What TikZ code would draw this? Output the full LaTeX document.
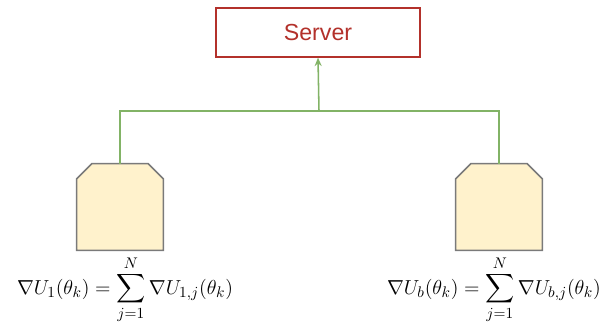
\documentclass[tikz,border=0pt]{standalone}
\usepackage{amsmath}
\usepackage{fontspec}
\newfontfamily\labelfont{Liberation Sans}
\usetikzlibrary{arrows.meta,calc}
\definecolor{serverred}{HTML}{B3312B}
\definecolor{linkgreen}{HTML}{82B366}
\definecolor{clientfill}{HTML}{FFF2CC}
\definecolor{clientdraw}{HTML}{7A7A7A}

\begin{document}
\begin{tikzpicture}[
    serverbox/.style={draw=serverred, line width=1.1pt, fill=white, minimum width=5.1cm, minimum height=1.225cm, text=serverred, font=\labelfont\fontsize{16.5}{18}\selectfont},
    clientbox/.style={inner sep=0pt, minimum width=2.15cm, minimum height=2.15cm},
    link/.style={linkgreen, line width=1.1pt},
    formula/.style={inner sep=0pt, font=\fontsize{15.5}{18}\selectfont}]
\useasboundingbox (0,0) rectangle (15.375,8.2);
\newcommand{\chamf}{0.375}
\node[serverbox] (server) at (7.95,7.39) {Server};
\node[clientbox] (clientA) at (3.0,3.025) {};
\node[clientbox] (clientB) at (12.475,3.025) {};
\coordinate (hub) at (7.975,5.425);
% chamfered client shapes
\foreach \c in {clientA,clientB}
  \draw[clientdraw, line width=1.1pt, fill=clientfill] (\c.south west) -- ($(\c.north west)+(0,-\chamf)$) -- ($(\c.north west)+(\chamf,0)$) -- ($(\c.north east)+(-\chamf,0)$) -- ($(\c.north east)+(0,-\chamf)$) -- (\c.south east) -- cycle;
\draw[link] (clientA.north) -- (clientA.north |- hub) -- (clientB.north |- hub) -- (clientB.north);
\draw[link, -{Stealth[length=6pt,width=5pt]}] (hub) -- (server.south);
\node[formula] (sumA) at (3.125,0.95) {$\displaystyle \nabla U_1(\theta_k) = \sum_{j=1}^{N} \nabla U_{1,j}(\theta_k)$};
\node[formula] (sumB) at (12.35,0.95) {$\displaystyle \nabla U_b(\theta_k) = \sum_{j=1}^{N} \nabla U_{b,j}(\theta_k)$};
\end{tikzpicture}
\end{document}
